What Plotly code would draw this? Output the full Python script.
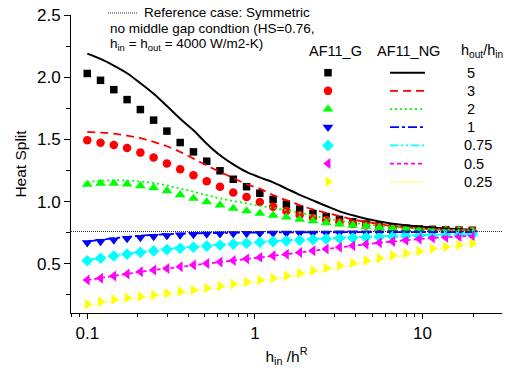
import plotly.graph_objects as go

# ---------------- data ----------------
h_ratio = [0.1, 0.12, 0.144, 0.1728, 0.2074, 0.2488, 0.2986, 0.3583, 0.43, 0.516,
           0.6192, 0.743, 0.8916, 1.07, 1.284, 1.541, 1.849, 2.219, 2.662, 3.195,
           3.834, 4.601, 5.521, 6.625, 7.95, 9.54, 11.45, 13.74, 16.49, 19.78]

series_labels = ["5", "3", "2", "1", "0.75", "0.5", "0.25"]

g_5 = [2.03, 1.975, 1.90, 1.82, 1.74, 1.655, 1.567, 1.475, 1.40, 1.325, 1.248, 1.18, 1.12, 1.068,
       1.017, 0.98, 0.94, 0.905, 0.88, 0.857, 0.838, 0.82, 0.805, 0.795, 0.787, 0.781, 0.777,
       0.774, 0.771, 0.769]
g_3 = [1.493, 1.474, 1.456, 1.431, 1.394, 1.354, 1.306, 1.26, 1.212, 1.164, 1.119, 1.074, 1.038,
       0.998, 0.958, 0.924, 0.892, 0.87, 0.852, 0.835, 0.82, 0.808, 0.798, 0.79, 0.784, 0.779,
       0.775, 0.772, 0.77, 0.768]
g_2 = [1.138, 1.146, 1.146, 1.14, 1.127, 1.111, 1.087, 1.055, 1.026, 0.998, 0.972, 0.945, 0.925,
       0.905, 0.89, 0.875, 0.857, 0.845, 0.83, 0.82, 0.81, 0.80, 0.792, 0.786, 0.781, 0.777,
       0.774, 0.771, 0.769, 0.767]
g_1 = [0.67, 0.68, 0.692, 0.703, 0.712, 0.72, 0.727, 0.732, 0.736, 0.739, 0.741, 0.743, 0.744,
       0.745, 0.746, 0.746, 0.747, 0.747, 0.747, 0.748, 0.748, 0.748, 0.748, 0.748, 0.748, 0.748,
       0.749, 0.749, 0.749, 0.749]
g_075 = [0.525, 0.545, 0.563, 0.578, 0.592, 0.604, 0.615, 0.625, 0.634, 0.643, 0.651, 0.659,
         0.666, 0.673, 0.679, 0.685, 0.69, 0.695, 0.70, 0.705, 0.709, 0.713, 0.717, 0.72, 0.723,
         0.726, 0.729, 0.731, 0.733, 0.735]
g_05 = [0.37, 0.385, 0.403, 0.419, 0.436, 0.45, 0.463, 0.477, 0.49, 0.503, 0.515, 0.527, 0.54,
        0.552, 0.565, 0.578, 0.592, 0.606, 0.62, 0.633, 0.646, 0.658, 0.67, 0.68, 0.69, 0.699,
        0.707, 0.714, 0.72, 0.725]
g_025 = [0.176, 0.195, 0.213, 0.227, 0.238, 0.25, 0.263, 0.277, 0.291, 0.307, 0.322, 0.338,
         0.355, 0.371, 0.387, 0.405, 0.425, 0.446, 0.466, 0.487, 0.507, 0.527, 0.547, 0.567,
         0.585, 0.602, 0.621, 0.637, 0.652, 0.665]

ng_5 = [2.19, 2.147, 2.094, 2.032, 1.952, 1.867, 1.768, 1.667, 1.573, 1.466, 1.373, 1.30, 1.239,
        1.195, 1.155, 1.105, 1.055, 1.01, 0.965, 0.922, 0.89, 0.862, 0.84, 0.822, 0.81, 0.80,
        0.792, 0.785, 0.779, 0.774]
ng_3 = [1.56, 1.555, 1.546, 1.53, 1.511, 1.48, 1.445, 1.40, 1.346, 1.29, 1.239, 1.19, 1.14,
        1.105, 1.052, 1.012, 0.972, 0.937, 0.91, 0.884, 0.857, 0.838, 0.82, 0.804, 0.793, 0.785,
        0.779, 0.775, 0.772, 0.77]
ng_2 = [1.16, 1.167, 1.172, 1.17, 1.162, 1.15, 1.13, 1.105, 1.08, 1.052, 1.026, 1.005, 0.986,
        0.966, 0.95, 0.93, 0.91, 0.888, 0.865, 0.848, 0.83, 0.818, 0.806, 0.797, 0.79, 0.784,
        0.779, 0.775, 0.772, 0.769]
ng_1 = [0.68, 0.693, 0.706, 0.717, 0.726, 0.733, 0.738, 0.742, 0.745, 0.747, 0.749, 0.75, 0.751,
        0.752, 0.752, 0.753, 0.753, 0.754, 0.754, 0.754, 0.755, 0.755, 0.755, 0.755, 0.755,
        0.756, 0.756, 0.756, 0.756, 0.756]
ng_075 = [0.53, 0.55, 0.568, 0.583, 0.597, 0.609, 0.62, 0.63, 0.639, 0.648, 0.656, 0.664, 0.671,
          0.678, 0.684, 0.69, 0.695, 0.70, 0.705, 0.71, 0.714, 0.718, 0.722, 0.725, 0.728, 0.731,
          0.734, 0.736, 0.738, 0.74]
ng_05 = [0.37, 0.386, 0.404, 0.42, 0.436, 0.45, 0.463, 0.476, 0.489, 0.502, 0.514, 0.526, 0.539,
         0.551, 0.564, 0.577, 0.591, 0.605, 0.619, 0.632, 0.645, 0.657, 0.669, 0.68, 0.69, 0.699,
         0.707, 0.714, 0.72, 0.726]
ng_025 = [0.165, 0.183, 0.2, 0.213, 0.225, 0.237, 0.25, 0.263, 0.277, 0.292, 0.307, 0.323, 0.34,
          0.356, 0.373, 0.391, 0.41, 0.43, 0.45, 0.471, 0.492, 0.512, 0.532, 0.552, 0.571, 0.589,
          0.618, 0.633, 0.647, 0.66]

REF_HS = 0.76

y_ticks = [0.5, 1.0, 1.5, 2.0, 2.5]
y_minor = [0.25, 0.75, 1.25, 1.75, 2.25]
x_ticks = [0.1, 1, 10]
x_ticktext = ["0.1", "1", "10"]
x_minor = [0.08, 0.09, 0.2, 0.3, 0.4, 0.5, 0.6, 0.7, 0.8, 0.9,
           2, 3, 4, 5, 6, 7, 8, 9, 20]

# ---------------- styles ----------------
g_series = [g_5, g_3, g_2, g_1, g_075, g_05, g_025]
ng_series = [ng_5, ng_3, ng_2, ng_1, ng_075, ng_05, ng_025]
colors = ["#000000", "#FF0000", "#00FF00", "#0000FF", "#00FFFF", "#FF00FF", "#FFFF00"]
symbols = ["square", "circle", "triangle-up", "triangle-down", "diamond",
           "triangle-left", "triangle-right"]
msizes = [7.5, 8.5, 9.5, 9.5, 9, 9.5, 9.5]
dashes = ["solid", "8px,5px", "2px,3px", "9px,3px,3px,3px",
          "8px,3px,2px,3px,2px,3px", "4px,3px", "1px,1.5px"]
lwidths = [2, 1.8, 1.8, 1.8, 1.8, 1.8, 1.5]

FONT = "Arial, 'Liberation Sans', sans-serif"

W, H = 506, 370
ML, MR, MT, MB = 71, 4, 15, 57
PW, PH = W - ML - MR, H - MT - MB


def px(x):
    return (x - ML) / PW


def py(y):
    return (H - MB - y) / PH


fig = go.Figure()

# AF11_G markers
for vals, c, s, ms, lab in zip(g_series, colors, symbols, msizes, series_labels):
    fig.add_trace(go.Scatter(x=h_ratio, y=vals, mode="markers",
                             marker=dict(symbol=s, size=ms, color=c, line=dict(width=0)),
                             name="AF11_G " + lab, showlegend=False))
# AF11_NG lines
for vals, c, d, lw, lab in zip(ng_series, colors, dashes, lwidths, series_labels):
    fig.add_trace(go.Scatter(x=h_ratio, y=vals, mode="lines",
                             line=dict(color=c, dash=d, width=lw, shape="spline"),
                             name="AF11_NG " + lab, showlegend=False))

# custom legend table (on an overlay axis in paper-like units)
row0, row_step = 72.7, 18.17
for i, (c, s, ms, d, lw, lab) in enumerate(zip(colors, symbols, msizes, dashes, lwidths,
                                                series_labels)):
    ry = py(row0 + i * row_step)
    fig.add_trace(go.Scatter(x=[px(328)], y=[ry], mode="markers", xaxis="x2", yaxis="y2",
                             marker=dict(symbol=s, size=ms, color=c, line=dict(width=0)),
                             showlegend=False, hoverinfo="skip"))
    fig.add_trace(go.Scatter(x=[px(390), px(425)], y=[ry, ry], mode="lines",
                             xaxis="x2", yaxis="y2",
                             line=dict(color=c, dash=d, width=lw),
                             showlegend=False, hoverinfo="skip"))
    fig.add_annotation(x=px(465 if len(lab) == 1 else 461.5), y=ry, xref="paper", yref="paper",
                       text=lab, showarrow=False, xanchor="left", yanchor="middle",
                       font=dict(family=FONT, size=14.5, color="black"))

for txt, cx in [("AF11_G", 335), ("AF11_NG", 408), ("h<sub>out</sub>/h<sub>in</sub>", 482)]:
    fig.add_annotation(x=px(cx), y=py(51), xref="paper", yref="paper", text=txt,
                       showarrow=False, xanchor="center", yanchor="middle",
                       font=dict(family=FONT, size=14.5, color="black"))

# reference case note
fig.add_shape(type="line", xref="paper", yref="paper", x0=px(108), x1=px(137),
              y0=py(13), y1=py(13), line=dict(color="#333333", width=1, dash="1px,1px"))
notes = [("Reference case: Symmetric", 142, 13),
         ("no middle gap condtion (HS=0.76,", 108, 28.5),
         ("h<sub>in</sub> = h<sub>out</sub> = 4000 W/m2-K)", 108, 45)]
for txt, lx, ly in notes:
    fig.add_annotation(x=px(lx), y=py(ly), xref="paper", yref="paper", text=txt,
                       showarrow=False, xanchor="left", yanchor="middle",
                       font=dict(family=FONT, size=13.5, color="black"))

# reference horizontal line
fig.add_shape(type="line", xref="paper", yref="y", x0=0, x1=1, y0=REF_HS, y1=REF_HS,
              line=dict(color="#333333", width=1, dash="1px,1px"))

fig.update_layout(
    width=W, height=H,
    margin=dict(l=ML, r=MR, t=MT, b=MB),
    paper_bgcolor="white", plot_bgcolor="white",
    font=dict(family=FONT, color="black"),
    showlegend=False,
    hovermode=False,
    xaxis=dict(type="log", range=[-1.097, 1.474],
               tickvals=x_ticks, ticktext=x_ticktext,
               tickfont=dict(size=17, family=FONT),
               showline=True, linecolor="black", linewidth=1,
               ticks="outside", ticklen=5, tickwidth=1, tickcolor="black",
               minor=dict(tickvals=x_minor, ticks="outside", ticklen=3, tickcolor="black",
                          showgrid=False),
               showgrid=False, zeroline=False,
               title=dict(text="h<sub>in</sub> /h<sup>R</sup>",
                          font=dict(size=15.5, family=FONT), standoff=8)),
    yaxis=dict(range=[0.105, 2.5], tickvals=y_ticks, tickformat=".1f",
               tickfont=dict(size=17, family=FONT),
               showline=True, linecolor="black", linewidth=1,
               ticks="outside", ticklen=6, tickwidth=1, tickcolor="black",
               minor=dict(tickvals=y_minor, ticks="outside", ticklen=4, tickcolor="black",
                          showgrid=False),
               showgrid=False, zeroline=False,
               title=dict(text="Heat Split", font=dict(size=15.5, family=FONT), standoff=6)),
    xaxis2=dict(overlaying="x", range=[0, 1], visible=False, anchor="y2"),
    yaxis2=dict(overlaying="y", range=[0, 1], visible=False, anchor="x2"),
)

fig.write_html("out.html",
               config={"displayModeBar": False, "staticPlot": True},
               post_script="document.body.style.margin='0';document.body.style.overflow='hidden';")
